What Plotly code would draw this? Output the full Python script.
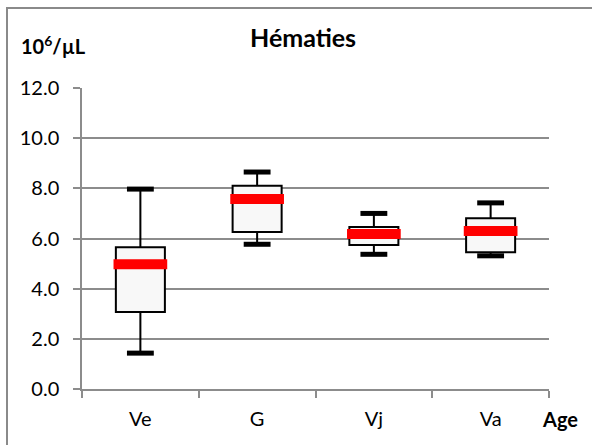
import plotly.graph_objects as go

# Red blood cell counts (10^6/µL) by age group
groups = ["Ve", "G", "Vj", "Va"]
whisker_low = [1.43, 5.77, 5.37, 5.31]
q1 = [3.07, 6.26, 5.74, 5.45]
median = [4.97, 7.57, 6.18, 6.30]
q3 = [5.65, 8.10, 6.46, 6.81]
whisker_high = [7.97, 8.65, 7.00, 7.42]
y_ticks = [0, 2, 4, 6, 8, 10, 12]

pos = list(range(len(groups)))
FONT = "Lato"
GRID = "#8c8c8c"

fig = go.Figure()

# boxes with whiskers (caps drawn separately as thick bars)
for i, g in enumerate(groups):
    fig.add_trace(go.Box(
        x=[pos[i]], q1=[q1[i]], median=[median[i]], q3=[q3[i]],
        lowerfence=[whisker_low[i]], upperfence=[whisker_high[i]],
        width=0.42, whiskerwidth=0, fillcolor="#f8f8f8",
        line=dict(color="black", width=2), boxpoints=False,
        name=g, showlegend=False, hoverinfo="skip",
    ))

# whisker caps
cap_half = 0.115
cx, cy = [], []
for i in pos:
    for v in (whisker_low[i], whisker_high[i]):
        cx += [i - cap_half, i + cap_half, None]
        cy += [v, v, None]
fig.add_trace(go.Scatter(x=cx, y=cy, mode="lines",
                         line=dict(color="black", width=5),
                         showlegend=False, hoverinfo="skip"))

# medians as thick red bands
med_half = 0.23
mx, my = [], []
for i in pos:
    mx += [i - med_half, i + med_half, None]
    my += [median[i], median[i], None]
fig.add_trace(go.Scatter(x=mx, y=my, mode="lines",
                         line=dict(color="#ff0000", width=10),
                         showlegend=False, hoverinfo="skip"))

# second x axis only carries the category names
fig.add_trace(go.Scatter(x=pos, y=[None] * len(pos), xaxis="x2",
                         showlegend=False, hoverinfo="skip"))

fig.update_layout(
    width=592, height=445,
    margin=dict(l=82, r=43, t=88, b=56),
    paper_bgcolor="white", plot_bgcolor="white",
    font=dict(family=FONT, size=20, color="black"),
    xaxis=dict(
        range=[-0.5, len(groups) - 0.5],
        tickvals=[p - 0.5 for p in pos] + [len(groups) - 0.5],
        showticklabels=False,
        ticks="outside", ticklen=7, tickcolor=GRID, tickwidth=1.5,
        showline=True, linecolor=GRID, linewidth=1.5,
        showgrid=False, zeroline=False, fixedrange=True,
    ),
    xaxis2=dict(
        overlaying="x", side="bottom", matches="x",
        tickvals=pos, ticktext=groups, ticks="",
        showline=False, showgrid=False, zeroline=False,
        ticklabelstandoff=16,
    ),
    yaxis=dict(
        range=[0, 12], tickvals=y_ticks,
        ticktext=[f"{v:.1f}" for v in y_ticks],
        ticks="outside", ticklen=7, tickcolor=GRID, tickwidth=1.5,
        showline=True, linecolor=GRID, linewidth=1.5,
        showgrid=True, gridcolor=GRID, gridwidth=1.5,
        zeroline=False, ticklabelstandoff=10,
    ),
    annotations=[
        dict(text="<b>Hématies</b>", xref="paper", yref="paper",
             x=0.474, y=1.17, xanchor="center", yanchor="middle",
             showarrow=False, font=dict(size=25)),
        dict(text="<b>10<sup>6</sup>/µL</b>", xref="paper", yref="paper",
             x=-0.060, y=1.143, xanchor="center", yanchor="middle",
             showarrow=False, font=dict(size=20)),
        dict(text="<b>Age</b>", xref="paper", yref="paper",
             x=1.0236, y=-0.10, xanchor="center", yanchor="middle",
             showarrow=False, font=dict(size=20)),
    ],
    shapes=[
        dict(type="rect", xref="paper", yref="paper",
             x0=-0.1606, x1=1.25, y0=-0.30, y1=1.266,
             line=dict(color="#8a8a8a", width=2), layer="below"),
    ],
)

fig.write_html("out.html")
